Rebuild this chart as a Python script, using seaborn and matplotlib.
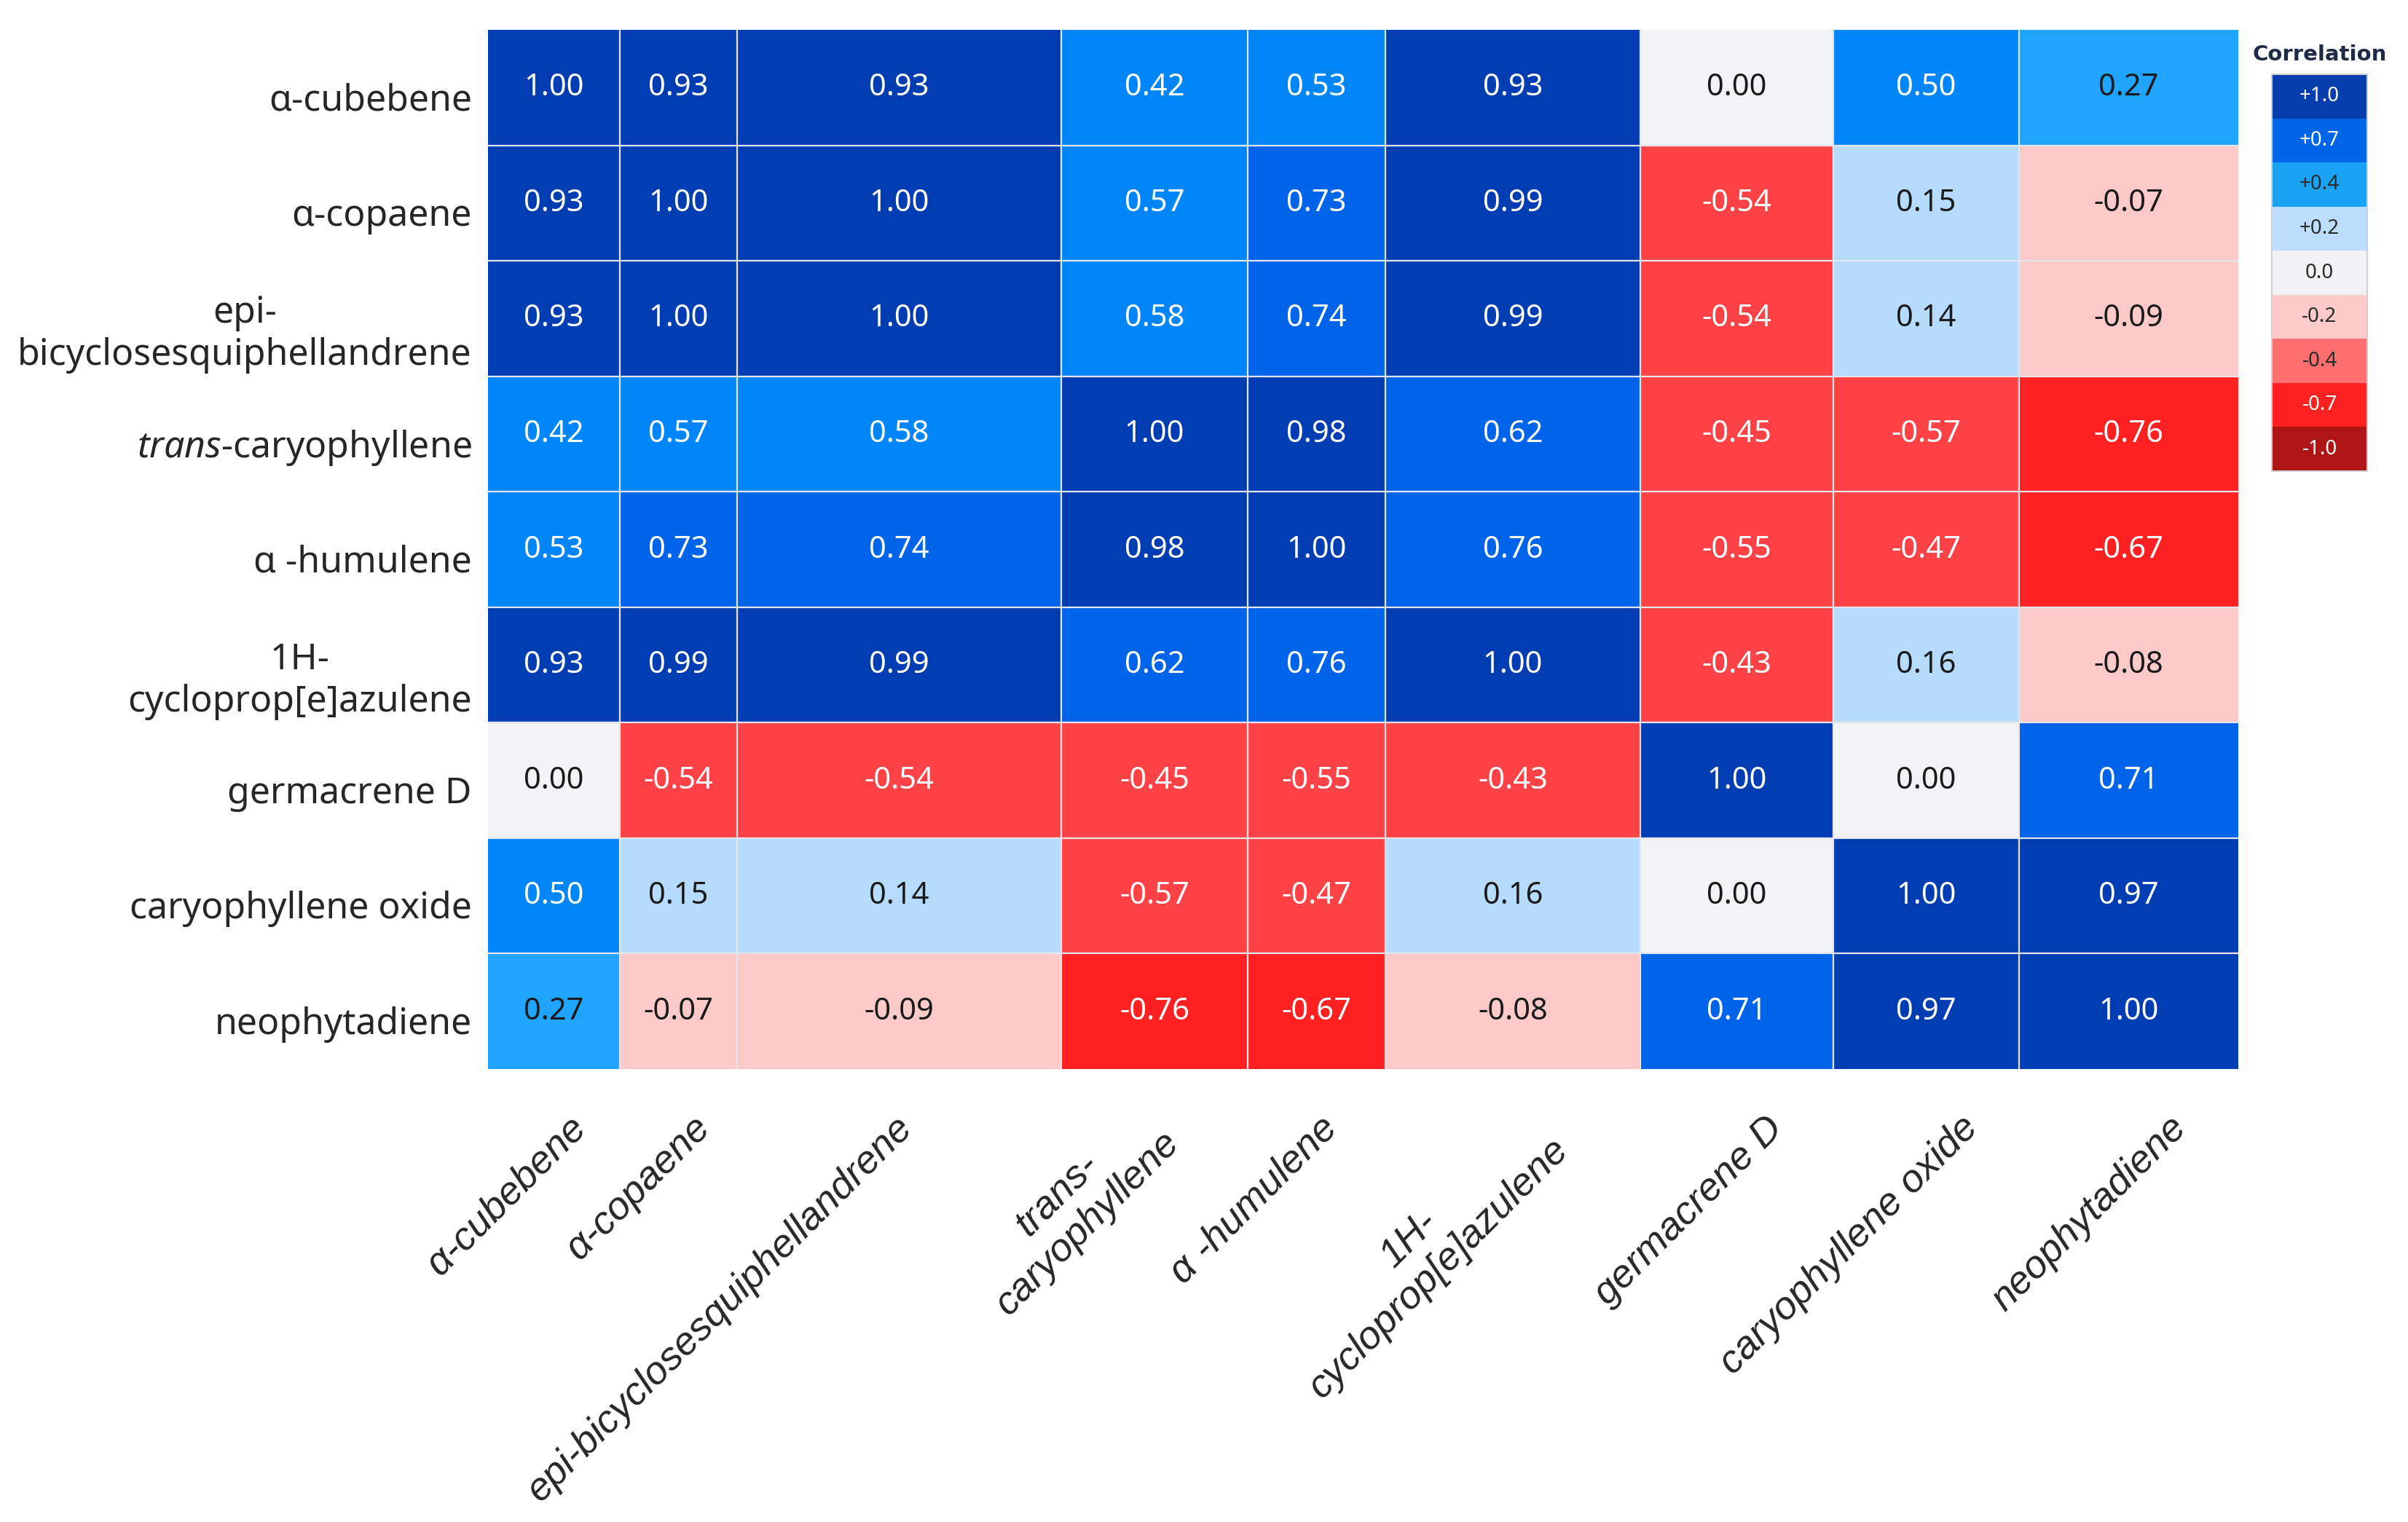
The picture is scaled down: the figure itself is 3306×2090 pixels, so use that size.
import numpy as np
import pandas as pd
import seaborn as sns
import matplotlib.pyplot as plt
from matplotlib.colors import ListedColormap, BoundaryNorm
from matplotlib.transforms import ScaledTranslation

# compounds (row / column order)
row_labels = ["α-cubebene", "α-copaene", "epi-\nbicyclosesquiphellandrene",
              r"$\it{trans}$-caryophyllene", "α -humulene", "1H-\ncycloprop[e]azulene",
              "germacrene D", "caryophyllene oxide", "neophytadiene"]
col_labels = ["α-cubebene", "α-copaene", "epi-bicyclosesquiphellandrene",
              "trans-\ncaryophyllene", "α -humulene", "1H-\ncycloprop[e]azulene",
              "germacrene D", "caryophyllene oxide", "neophytadiene"]

corr = np.array([
    [1.00, 0.93, 0.93, 0.42, 0.53, 0.93, 0.00, 0.50, 0.27],
    [0.93, 1.00, 1.00, 0.57, 0.73, 0.99, -0.54, 0.15, -0.07],
    [0.93, 1.00, 1.00, 0.58, 0.74, 0.99, -0.54, 0.14, -0.09],
    [0.42, 0.57, 0.58, 1.00, 0.98, 0.62, -0.45, -0.57, -0.76],
    [0.53, 0.73, 0.74, 0.98, 1.00, 0.76, -0.55, -0.47, -0.67],
    [0.93, 0.99, 0.99, 0.62, 0.76, 1.00, -0.43, 0.16, -0.08],
    [0.00, -0.54, -0.54, -0.45, -0.55, -0.43, 1.00, 0.00, 0.71],
    [0.50, 0.15, 0.14, -0.57, -0.47, 0.16, 0.00, 1.00, 0.97],
    [0.27, -0.07, -0.09, -0.76, -0.67, -0.08, 0.71, 0.97, 1.00],
])

# legend entries
legend_values = [1.0, 0.7, 0.4, 0.2, 0.0, -0.2, -0.4, -0.7, -1.0]
legend_text = ["+1.0", "+0.7", "+0.4", "+0.2", "0.0", "-0.2", "-0.4", "-0.7", "-1.0"]

# layout: the original has columns of unequal width (pixels)
col_width = [181, 161, 445, 256, 189, 350, 265, 255, 301]
# nudge of each rotated x label (pixels, right / up)
xlab_dx = [19, 18, -8, -33, 3, 10, 38, 46, 54]
xlab_dy = [0, 0, 0, 20, 0, 10, 0, 0, 0]

sns.set_theme(style="white")
plt.rcParams["font.family"] = ["Noto Sans", "DejaVu Sans"]
plt.rcParams["mathtext.fontset"] = "custom"
plt.rcParams["mathtext.rm"] = "Noto Sans"
plt.rcParams["mathtext.it"] = "Noto Sans:italic"

# discrete colour scale
bounds = [-1.01, -0.85, -0.6, -0.3, -0.05, 0.05, 0.2, 0.4, 0.6, 0.85, 1.01]
cell_colors = ["#b01515", "#ff2121", "#ff4245", "#fdcaca", "#f2f3f5",
               "#b6dbfc", "#1fa5ff", "#0086f8", "#0064ea", "#003db2"]
cmap = ListedColormap(cell_colors)
norm = BoundaryNorm(bounds, cmap.N)

W, H = 3306, 2090
fig = plt.figure(figsize=(W / 100, H / 100), dpi=100)
ax = fig.add_axes([670 / W, 1 - 1468 / H, 2403 / W, 1427 / H])

# expand columns so each one gets its own width
wide = pd.DataFrame(np.repeat(corr, col_width, axis=1))
sns.heatmap(wide, cmap=cmap, norm=norm, cbar=False, xticklabels=False,
            yticklabels=False, ax=ax)

edges = np.concatenate([[0], np.cumsum(col_width)])
centers = (edges[:-1] + edges[1:]) / 2

for x in edges[1:-1]:
    ax.axvline(x, color="#e4e6ec", lw=1.6)
for y in range(1, len(row_labels)):
    ax.axhline(y, color="#e4e6ec", lw=1.6)

for i in range(corr.shape[0]):
    for j in range(corr.shape[1]):
        v = corr[i, j]
        tc = "white" if (v >= 0.4 or v <= -0.3) else "#1a1a1a"
        ax.text(centers[j], i + 0.5, f"{v:.2f}", ha="center", va="center",
                color=tc, fontsize=30)

ax.set_yticks(np.arange(len(row_labels)) + 0.5)
ax.set_yticklabels(row_labels, fontsize=36, rotation=0, multialignment="center")
ax.set_xticks(centers)
ax.set_xticklabels(col_labels, fontsize=39, rotation=45, ha="right", va="top",
                   rotation_mode="anchor", family="Liberation Sans",
                   style="italic", multialignment="center")
ax.tick_params(axis="both", length=0)
ax.tick_params(axis="y", pad=16)
ax.tick_params(axis="x", pad=40)
for lab, dx, dy in zip(ax.get_xticklabels(), xlab_dx, xlab_dy):
    lab.set_transform(lab.get_transform() +
                      ScaledTranslation(dx / 100, dy / 100, fig.dpi_scale_trans))
for lab in ax.get_yticklabels():
    lab.set_transform(lab.get_transform() + ScaledTranslation(0, -0.12, fig.dpi_scale_trans))

# legend drawn as a small one-column heatmap
legend_colors = ["#b01515", "#ff2020", "#ff6f6f", "#fdcaca", "#f2f2f4",
                 "#bcddfb", "#1aa3f5", "#0066e8", "#053dad"]
leg_bounds = [-1.1, -0.85, -0.55, -0.3, -0.1, 0.1, 0.3, 0.55, 0.85, 1.1]
leg_cmap = ListedColormap(legend_colors)
leg_norm = BoundaryNorm(leg_bounds, leg_cmap.N)

lax = fig.add_axes([3119 / W, 1 - 647 / H, 131 / W, 545 / H])
sns.heatmap(np.array(legend_values).reshape(-1, 1), cmap=leg_cmap, norm=leg_norm,
            annot=np.array(legend_text).reshape(-1, 1), fmt="", cbar=False,
            xticklabels=False, yticklabels=False, annot_kws={"fontsize": 20},
            ax=lax)
for t, v in zip(lax.texts, legend_values):
    t.set_color("white" if abs(v) >= 0.7 else "#2a2a2a")
for s in lax.spines.values():
    s.set_visible(True)
    s.set_color("#d0d0d0")
    s.set_linewidth(1.5)
lax.set_title("Correlation", fontsize=21, fontweight="bold", family="DejaVu Sans",
              color="#1f2a44", pad=14)

fig.savefig("out.png", dpi=100, facecolor="white")
